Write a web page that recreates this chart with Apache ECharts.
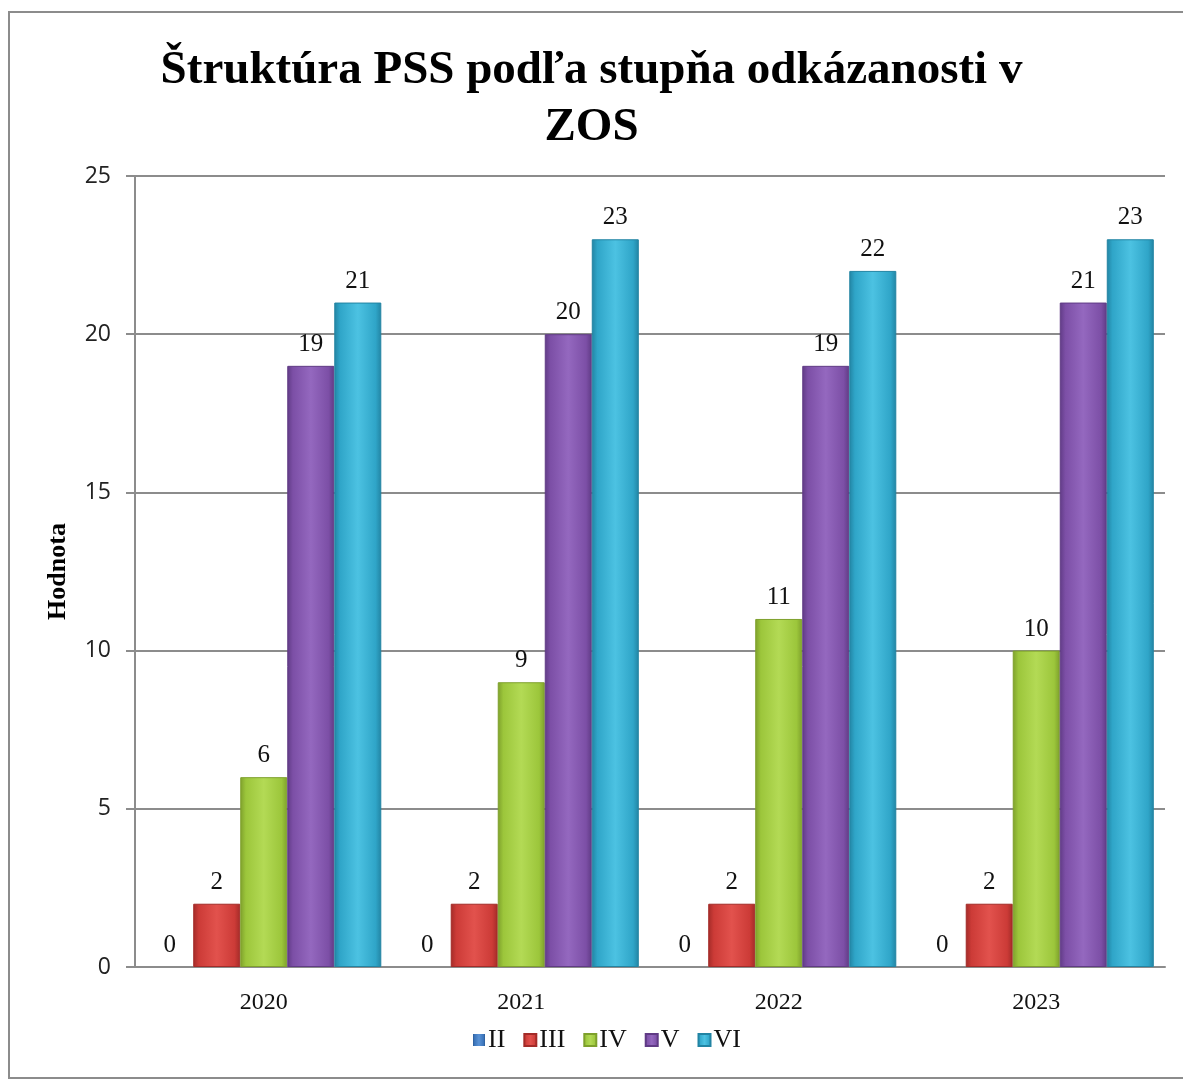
<!DOCTYPE html>
<html>
<head>
<meta charset="utf-8">
<script src="https://cdn.jsdelivr.net/npm/echarts@6/dist/echarts.min.js"></script>
<style>
  html, body { margin: 0; padding: 0; background: #fff; }
  #chart { width: 1183px; height: 1085px; }
</style>
</head>
<body>
<div id="chart"></div>
<script>
const titleText = 'Štruktúra PSS podľa stupňa odkázanosti v\nZOS'
const years = ['2020', '2021', '2022', '2023']
const seriesNames = ['II', 'III', 'IV', 'V', 'VI']
const valuesII = [0, 0, 0, 0]
const valuesIII = [2, 2, 2, 2]
const valuesIV = [6, 9, 11, 10]
const valuesV = [19, 20, 19, 21]
const valuesVI = [21, 23, 22, 23]
const yTicks = [0, 5, 10, 15, 20, 25]

// base / light / dark shade per series, to fake the bevelled look
const palette = [
  { base: '#3b74ba', light: '#5a93d6', dark: '#2c5a94' },
  { base: '#cc3b37', light: '#e2524d', dark: '#a32b28' },
  { base: '#9cc63b', light: '#b3da55', dark: '#7ea02c' },
  { base: '#7c4fa6', light: '#9468bf', dark: '#603b85' },
  { base: '#2fa5c8', light: '#4cc2e2', dark: '#2284a3' }
]

const serif = 'Liberation Serif'
const sans = 'Open Sans'

const bevel = (c) => new echarts.graphic.LinearGradient(0, 0, 1, 0, [
  { offset: 0, color: c.dark },
  { offset: 0.12, color: c.base },
  { offset: 0.5, color: c.light },
  { offset: 0.88, color: c.base },
  { offset: 1, color: c.dark }
])

const allValues = [valuesII, valuesIII, valuesIV, valuesV, valuesVI]

const chart = echarts.init(document.getElementById('chart'))

chart.setOption({
  backgroundColor: '#fff',
  animation: false,
  graphic: [{
    type: 'rect',
    shape: { x: 9, y: 12, width: 1190, height: 1066 },
    style: { fill: 'none', stroke: '#8c8c8c', lineWidth: 2 },
    silent: true
  }],
  title: {
    text: titleText,
    left: 'center',
    top: 37,
    padding: [5, 0, 5, 20],
    textStyle: {
      fontFamily: serif,
      fontWeight: 'bold',
      fontSize: 47,
      lineHeight: 57,
      color: '#000'
    }
  },
  legend: {
    bottom: 27,
    left: 468,
    itemWidth: 12,
    itemHeight: 12,
    itemGap: 18,
    icon: 'rect',
    textStyle: { fontFamily: serif, fontSize: 26, color: '#111', padding: [0, 0, 0, -2] },
    data: seriesNames
  },
  grid: { left: 135, right: 18, top: 176, bottom: 118 },
  xAxis: {
    type: 'category',
    data: years,
    axisLine: { lineStyle: { color: '#8c8c8c', width: 2 } },
    axisTick: { show: false },
    axisLabel: { fontFamily: serif, fontSize: 24, color: '#111', margin: 24 }
  },
  yAxis: {
    type: 'value',
    min: yTicks[0],
    max: yTicks[yTicks.length - 1],
    interval: yTicks[1] - yTicks[0],
    name: 'Hodnota',
    nameLocation: 'middle',
    nameGap: 64,
    nameTextStyle: { fontFamily: serif, fontWeight: 'bold', fontSize: 26, color: '#000' },
    axisLine: { show: true, lineStyle: { color: '#8c8c8c', width: 2 } },
    axisTick: { show: true, length: 9, lineStyle: { color: '#8c8c8c', width: 2 } },
    axisLabel: { fontFamily: sans, fontSize: 23, color: '#222', margin: 24 },
    splitLine: { lineStyle: { color: '#8c8c8c', width: 2 } }
  },
  series: seriesNames.map((name, i) => ({
    name,
    type: 'bar',
    data: allValues[i],
    barGap: '0%',
    barCategoryGap: '8.7%',
    itemStyle: {
      color: bevel(palette[i]),
      borderColor: palette[i].dark,
      borderWidth: allValues[i].every(v => v === 0) ? 0 : 1
    },
    label: {
      show: true,
      position: 'top',
      distance: 9,
      fontFamily: serif,
      fontSize: 25,
      color: '#111'
    }
  }))
})
// legend icon colour uses the flat base tone
chart.setOption({
  series: seriesNames.map((name, i) => ({ name, color: palette[i].base }))
})
</script>
</body>
</html>
